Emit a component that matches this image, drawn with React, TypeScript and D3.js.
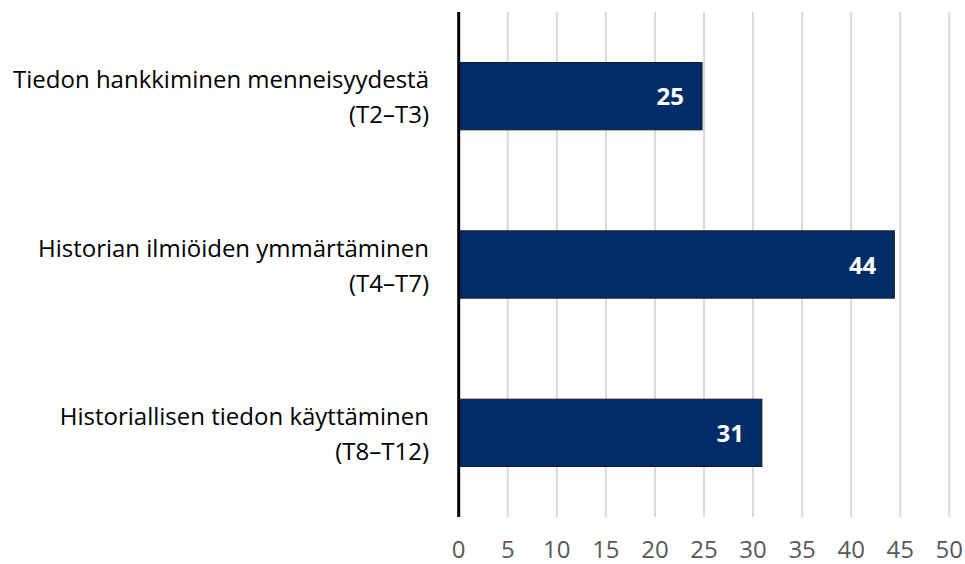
import React, { useEffect, useRef } from 'react';
import * as d3 from 'd3';

// Category labels (two lines each) and values
const categories = [
    ['Tiedon hankkiminen menneisyydestä', '(T2–T3)'],
    ['Historian ilmiöiden ymmärtäminen', '(T4–T7)'],
    ['Historiallisen tiedon käyttäminen', '(T8–T12)'],
];
const values = [24.8, 44.4, 30.9];
const xTicks = [0, 5, 10, 15, 20, 25, 30, 35, 40, 45, 50];

const FONT = '"Open Sans", "Noto Sans", sans-serif';

const App = () => {
    const svgRef = useRef<SVGSVGElement>(null);

    useEffect(() => {
        document.body.style.margin = '0';
        const svg = d3.select(svgRef.current);
        svg.selectAll('*').remove();

        const left = 458.7;
        const right = 949.3;
        const top = 12;
        const bottom = 517;

        const x = d3.scaleLinear().domain([0, 50]).range([left, right]);
        const y = d3
            .scaleBand()
            .domain(categories.map((_, i) => String(i)))
            .range([top, bottom])
            .paddingInner(0.6)
            .paddingOuter(0.3);

        // grid lines
        svg
            .append('g')
            .selectAll('line')
            .data(xTicks.filter(t => t > 0))
            .enter()
            .append('line')
            .attr('x1', d => x(d))
            .attr('x2', d => x(d))
            .attr('y1', top)
            .attr('y2', bottom)
            .attr('stroke', '#d9d9d9')
            .attr('stroke-width', 2);

        // tick labels
        svg
            .append('g')
            .selectAll('text')
            .data(xTicks)
            .enter()
            .append('text')
            .attr('x', d => x(d))
            .attr('y', 558)
            .attr('text-anchor', 'middle')
            .style('font-family', FONT)
            .style('font-size', '24px')
            .attr('fill', '#595959')
            .text(d => d);

        // bars
        svg
            .append('g')
            .selectAll('rect')
            .data(values)
            .enter()
            .append('rect')
            .attr('x', x(0))
            .attr('y', (d, i) => y(String(i)))
            .attr('width', d => x(d) - x(0))
            .attr('height', y.bandwidth())
            .attr('fill', '#002d67')
            .attr('stroke', '#1a1a1a')
            .attr('stroke-width', 1);

        // value labels
        svg
            .append('g')
            .selectAll('text')
            .data(values)
            .enter()
            .append('text')
            .attr('x', d => x(d) - 18)
            .attr('y', (d, i) => y(String(i)) + y.bandwidth() / 2 + 9)
            .attr('text-anchor', 'end')
            .style('font-family', FONT)
            .style('font-size', '24px')
            .style('font-weight', 'bold')
            .attr('fill', '#ffffff')
            .text(d => Math.round(d));

        // category labels
        const labels = svg
            .append('g')
            .selectAll('text')
            .data(categories)
            .enter()
            .append('text')
            .attr('text-anchor', 'end')
            .style('font-family', FONT)
            .style('font-size', '24px')
            .attr('fill', '#000000');
        labels.each(function (d, i) {
            const cy = y(String(i)) + y.bandwidth() / 2;
            d.forEach((line, j) => {
                d3.select(this)
                    .append('tspan')
                    .attr('x', 429)
                    .attr('y', cy - 8 + j * 35)
                    .text(line);
            });
        });

        // axis line
        svg
            .append('line')
            .attr('x1', x(0))
            .attr('x2', x(0))
            .attr('y1', top)
            .attr('y2', bottom)
            .attr('stroke', '#000000')
            .attr('stroke-width', 3);
    }, []);

    return (
        <div>
            <svg ref={svgRef} width={965} height={564} style={{ display: 'block' }}></svg>
        </div>
    );
};

export default App;
